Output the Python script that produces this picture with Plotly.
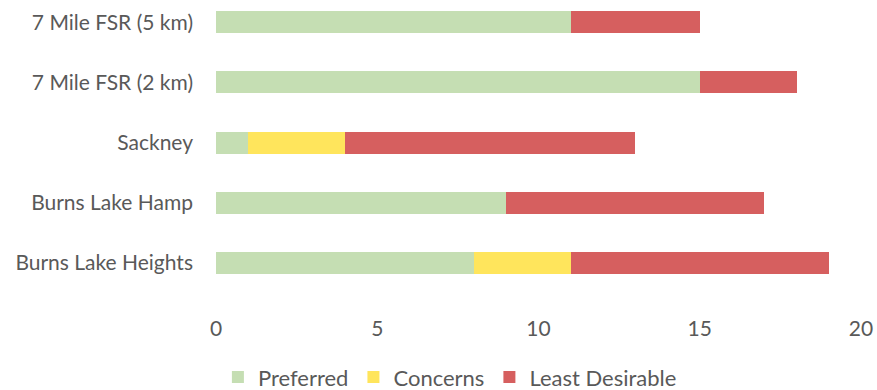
import plotly.graph_objects as go

# Sites, listed top to bottom
sites = ["7 Mile FSR (5 km)", "7 Mile FSR (2 km)", "Sackney", "Burns Lake Hamp", "Burns Lake Heights"]

# Response counts per site
preferred = [11, 15, 1, 9, 8]
concerns = [0, 0, 3, 0, 3]
least_desirable = [4, 3, 9, 8, 8]

x_ticks = [0, 5, 10, 15, 20]

colors = {
    "Preferred": "#C5DEB3",
    "Concerns": "#FFE55C",
    "Least Desirable": "#D65F5F",
}

font_family = "Lato, 'Open Sans', sans-serif"
text_color = "#595959"
font_size = 21

fig = go.Figure()
for name, vals in [("Preferred", preferred), ("Concerns", concerns), ("Least Desirable", least_desirable)]:
    fig.add_trace(go.Bar(
        name=name,
        y=sites,
        x=vals,
        orientation="h",
        marker=dict(color=colors[name], line=dict(width=0)),
    ))

fig.update_layout(
    barmode="stack",
    bargap=0.635,
    width=877,
    height=390,
    margin=dict(l=216, r=16, t=0, b=97),
    paper_bgcolor="white",
    plot_bgcolor="white",
    font=dict(family=font_family, size=font_size, color=text_color),
    showlegend=True,
    legend=dict(
        orientation="h",
        x=0.513, xref="container", xanchor="center",
        y=0.033, yref="container", yanchor="middle",
        font=dict(size=22, color=text_color),
        itemwidth=30,
        traceorder="normal",
    ),
    xaxis=dict(
        range=[0, 20],
        tickvals=x_ticks,
        showgrid=False,
        zeroline=False,
        showline=False,
        ticks="",
        ticklabelstandoff=21,
        tickfont=dict(size=font_size, color=text_color),
    ),
    yaxis=dict(
        categoryorder="array",
        categoryarray=sites,
        range=[4.5, -0.37],
        showgrid=False,
        zeroline=False,
        showline=False,
        ticks="",
        ticklabelstandoff=22,
        tickfont=dict(size=font_size, color=text_color),
    ),
)

fig.write_html("out.html")
